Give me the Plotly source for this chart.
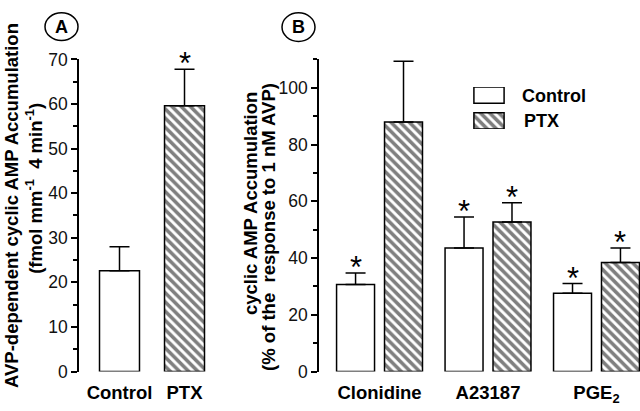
import plotly.graph_objects as go

# panel A: AVP-dependent cAMP accumulation
groups_a = ["Control", "PTX"]
mean_a = [22.6, 59.6]
sem_a = [5.4, 8.2]
sig_a = [False, True]

# panel B: % of response to 1 nM AVP
agents = ["Clonidine", "A23187", "PGE<sub>2</sub>"]
control_mean = [30.7, 43.5, 27.6]
control_sem = [4.0, 11.0, 3.4]
control_sig = [True, True, True]
ptx_mean = [88.0, 52.7, 38.4]
ptx_sem = [21.4, 6.8, 5.1]
ptx_sig = [False, True, True]

legend_labels = ["Control", "PTX"]
legend_key = [1, 1]

FONT = "Arial, 'Liberation Sans', sans-serif"
W, H = 640, 411


def px(x):
    return x / W


def py(y):
    return (H - y) / H


hatch = dict(shape="\\", size=6.5, solidity=0.55, fgcolor="black", bgcolor="white")
outline = dict(color="black", width=1.5)


def errs(sem):
    return dict(type="data", symmetric=False, array=sem, arrayminus=[0] * len(sem),
                color="black", thickness=1.5, width=10)


fig = go.Figure()

pos_a = list(range(len(groups_a)))
fig.add_trace(go.Bar(
    x=pos_a, y=mean_a, width=0.615,
    marker=dict(color="white", line=outline,
                pattern=dict(hatch, shape=["", "\\"])),
    error_y=errs(sem_a), xaxis="x", yaxis="y", showlegend=False,
))

pos_b = list(range(len(agents)))
bw = 0.35
fig.add_trace(go.Bar(
    x=pos_b, y=control_mean, width=bw, offset=-0.396,
    marker=dict(color="white", line=outline),
    error_y=errs(control_sem), xaxis="x2", yaxis="y2", showlegend=False,
))
fig.add_trace(go.Bar(
    x=pos_b, y=ptx_mean, width=bw, offset=0.046,
    marker=dict(color="white", line=outline, pattern=hatch),
    error_y=errs(ptx_sem), xaxis="x2", yaxis="y2", showlegend=False,
))

# legend keys
fig.add_trace(go.Bar(
    y=[0], x=legend_key[:1], orientation="h", width=0.63,
    marker=dict(color="white", line=outline),
    xaxis="x3", yaxis="y3", showlegend=False,
))
fig.add_trace(go.Bar(
    y=[1], x=legend_key[1:], orientation="h", width=0.63,
    marker=dict(color="white", line=outline, pattern=hatch),
    xaxis="x3", yaxis="y3", showlegend=False,
))

ann = []
star = dict(text="*", showarrow=False, yanchor="bottom", yshift=-14,
            font=dict(family=FONT, size=31, color="black"))
for i, s in enumerate(sig_a):
    if s:
        ann.append(dict(star, xref="x", yref="y", x=pos_a[i], y=mean_a[i] + sem_a[i]))
for i in pos_b:
    if control_sig[i]:
        ann.append(dict(star, xref="x2", yref="y2", x=i - 0.221,
                        y=control_mean[i] + control_sem[i]))
    if ptx_sig[i]:
        ann.append(dict(star, xref="x2", yref="y2", x=i + 0.221,
                        y=ptx_mean[i] + ptx_sem[i]))

title_font = dict(family=FONT, size=18.5, color="black", weight="bold")
for txt, x, y in [
    ("AVP-dependent cyclic AMP Accumulation", 12, 206),
    ("(fmol mm<sup>-1</sup>&nbsp; 4 min<sup>-1</sup>)", 34, 188),
    ("cyclic AMP Accumulation", 250, 204),
    ("(% of the&nbsp; response to 1 nM AVP)", 269, 228),
]:
    ann.append(dict(text=txt, xref="paper", yref="paper", x=px(x), y=py(y),
                    xanchor="center", yanchor="middle", textangle=-90,
                    showarrow=False, font=title_font))

for txt, x, y in [("A", 61.5, 17.5), ("B", 298.5, 18)]:
    ann.append(dict(text=txt, xref="paper", yref="paper", x=px(x), y=py(y),
                    xanchor="center", yanchor="middle", showarrow=False,
                    font=dict(family=FONT, size=18, color="black", weight="bold")))

for txt, x, y in [(legend_labels[0], 520, 90), (legend_labels[1], 522, 117)]:
    ann.append(dict(text=txt, xref="paper", yref="paper", x=px(x), y=py(y),
                    xanchor="left", yanchor="middle", showarrow=False,
                    font=dict(family=FONT, size=18, color="black", weight="bold")))

shapes = [
    dict(type="circle", xref="paper", yref="paper", x0=px(45), x1=px(78),
         y0=py(32), y1=py(3), line=dict(color="black", width=1.5)),
    dict(type="circle", xref="paper", yref="paper", x0=px(282), x1=px(315),
         y0=py(33), y1=py(3), line=dict(color="black", width=1.5)),
]

ydom = [py(380), py(52)]
yax = dict(showline=True, linecolor="black", linewidth=1.5, ticks="outside",
           ticklen=6, tickwidth=1.5, tickcolor="black", showgrid=False,
           zeroline=False, tickfont=dict(family=FONT, size=17.5, color="#111"))
xax = dict(showline=False, ticks="", showgrid=False, zeroline=False,
           ticklabelstandoff=8,
           tickfont=dict(family=FONT, size=18.5, color="black", weight="bold"))

fig.update_layout(
    width=W, height=H,
    margin=dict(l=0, r=0, t=0, b=0),
    paper_bgcolor="white", plot_bgcolor="white",
    barmode="overlay",
    xaxis=dict(xax, domain=[px(79), px(215)], range=[-0.623, 1.469],
               tickvals=pos_a, ticktext=groups_a, anchor="y"),
    yaxis=dict(yax, domain=ydom, range=[0, 70], dtick=10, anchor="x",
               minor=dict(dtick=5, ticks="outside", ticklen=4, tickwidth=1.5,
                          tickcolor="black")),
    xaxis2=dict(xax, domain=[px(319), 1.0], range=[-0.558, 2.401],
                tickvals=pos_b, ticktext=agents, anchor="y2"),
    yaxis2=dict(yax, domain=ydom, range=[0, 110], dtick=20, anchor="x2",
                minor=dict(dtick=10, ticks="outside", ticklen=4, tickwidth=1.5,
                           tickcolor="black")),
    xaxis3=dict(domain=[px(473), px(505)], range=[-0.03, 1.03], visible=False,
                anchor="y3"),
    yaxis3=dict(domain=[py(125), py(81)], range=[1.315, -0.315], visible=False,
                anchor="x3"),
    annotations=ann,
    shapes=shapes,
)

fig.write_html("out.html", config={"displayModeBar": False},
               post_script="document.body.style.margin='0';")
